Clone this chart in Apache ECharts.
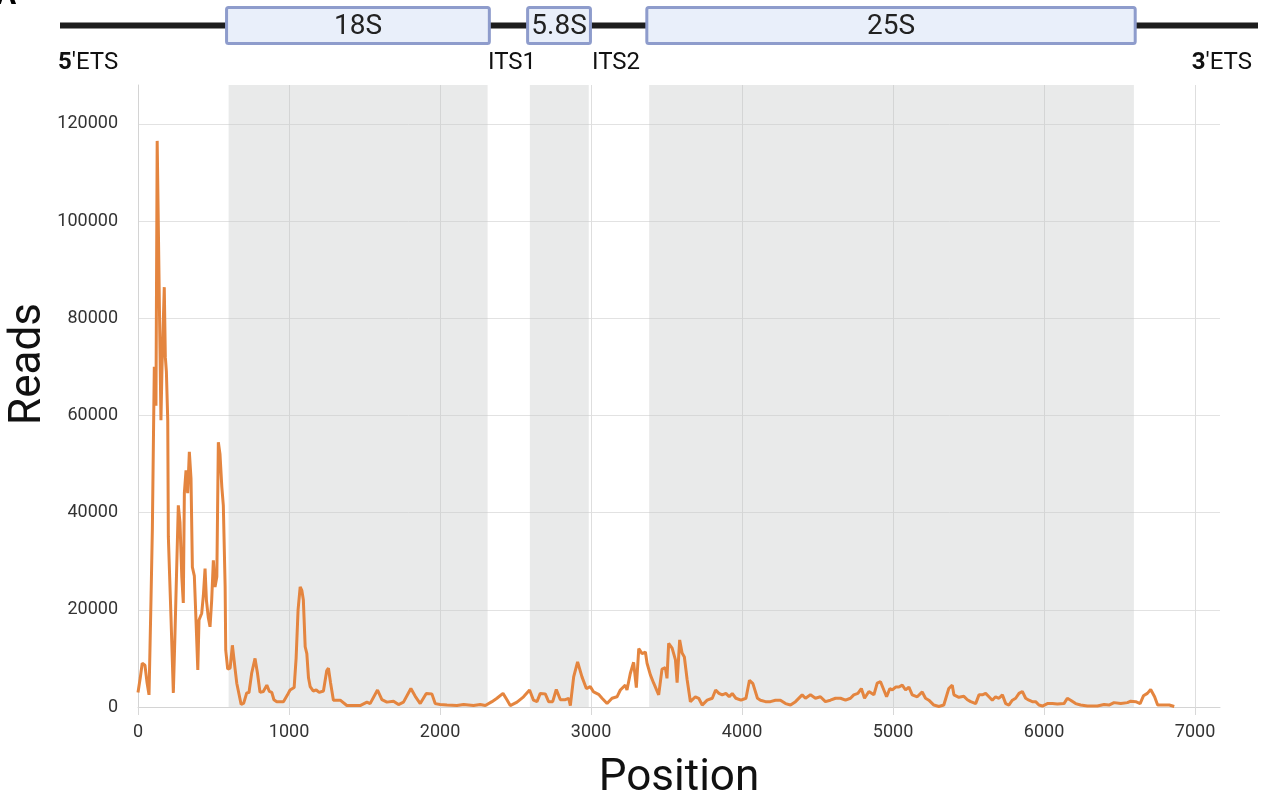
<!DOCTYPE html>
<html>
<head>
<meta charset="utf-8">
<script src="https://cdn.jsdelivr.net/npm/echarts@6/dist/echarts.min.js"></script>
<style>
  html, body { margin: 0; padding: 0; background: #fff; }
  #chart { width: 1265px; height: 807px; }
</style>
</head>
<body>
<div id="chart"></div>
<script>
// coverage track
const positions = [0, 7, 15, 28, 46, 60, 73, 86, 95, 101, 108, 115, 119, 127, 152, 159, 174, 181, 188, 197,
  201, 219, 234, 245, 267, 278, 290, 300, 307, 318, 329, 340, 351, 360, 373, 384, 396, 404, 422, 433,
  444, 453, 466, 477, 488, 499, 510, 522, 532, 543, 555, 565, 577, 581, 594, 610, 625, 643, 654, 683,
  700, 720, 735, 753, 775, 791, 808, 830, 853, 870, 886, 900, 919, 963, 990, 1007, 1034, 1047, 1060, 1074,
  1085, 1095, 1107, 1118, 1129, 1140, 1160, 1180, 1200, 1228, 1250, 1261, 1275, 1294, 1339, 1383, 1471, 1516, 1537, 1586,
  1615, 1648, 1692, 1725, 1758, 1807, 1836, 1869, 1909, 1946, 1968, 2001, 2046, 2112, 2156, 2222, 2266, 2300, 2344, 2377,
  2417, 2443, 2465, 2510, 2553, 2593, 2619, 2642, 2664, 2697, 2719, 2746, 2770, 2797, 2830, 2852, 2863, 2885, 2911, 2940,
  2969, 2995, 3017, 3050, 3073, 3106, 3139, 3172, 3194, 3227, 3238, 3260, 3282, 3300, 3316, 3338, 3360, 3371, 3393, 3415,
  3448, 3470, 3492, 3503, 3514, 3537, 3559, 3570, 3587, 3603, 3618, 3636, 3658, 3691, 3713, 3736, 3769, 3803, 3825, 3847,
  3869, 3893, 3915, 3935, 3959, 3993, 4026, 4049, 4072, 4102, 4122, 4155, 4188, 4221, 4254, 4288, 4321, 4354, 4398, 4420,
  4453, 4486, 4519, 4552, 4585, 4619, 4652, 4685, 4718, 4740, 4767, 4790, 4811, 4840, 4873, 4895, 4917, 4939, 4957, 4979,
  4995, 5017, 5039, 5061, 5083, 5105, 5127, 5160, 5193, 5215, 5237, 5270, 5303, 5336, 5369, 5392, 5403, 5436, 5469, 5492,
  5514, 5547, 5569, 5591, 5613, 5635, 5657, 5679, 5701, 5724, 5746, 5767, 5790, 5812, 5834, 5856, 5878, 5900, 5922, 5944,
  5966, 5989, 6022, 6055, 6088, 6132, 6154, 6176, 6209, 6242, 6287, 6353, 6397, 6430, 6463, 6508, 6552, 6574, 6607, 6636,
  6658, 6684, 6706, 6717, 6732, 6752, 6796, 6829, 6862]
const reads = [3000, 2900, 6000, 9000, 8600, 5000, 2500, 22000, 36400, 52000, 70000, 70000, 62000, 116500, 59000, 70000, 86400, 72000, 69000, 59000,
  35000, 17900, 2900, 15200, 41500, 38000, 26800, 21400, 44000, 48700, 44000, 52500, 47000, 28800, 27000, 17900, 7600, 17900, 19300, 23000,
  28500, 22000, 18300, 16500, 22000, 30200, 24700, 26800, 54500, 52000, 45300, 41500, 24700, 11700, 7800, 8000, 12700, 7800, 4900, 500,
  800, 2900, 3000, 7000, 10000, 7000, 3000, 3200, 4500, 3200, 3000, 1500, 1100, 1100, 2500, 3500, 4000, 10000, 20000, 24700,
  24000, 22000, 12400, 11000, 6000, 4200, 3300, 3500, 3000, 3300, 7500, 8000, 5000, 1400, 1400, 300, 300, 1000, 700, 3500,
  1500, 1000, 1200, 500, 1000, 3800, 2200, 700, 2800, 2700, 700, 500, 400, 300, 500, 300, 500, 300, 1100, 1800,
  2800, 1500, 300, 1000, 2100, 3500, 1400, 1100, 2800, 2700, 1100, 1100, 3600, 1500, 1500, 1800, 300, 6200, 9300, 6200,
  3800, 4200, 3100, 2600, 1800, 700, 1800, 2100, 3500, 4500, 3500, 6900, 9200, 4000, 12000, 11000, 11300, 9000, 6600, 4900,
  2500, 7800, 8100, 5900, 13100, 12100, 9700, 5000, 13800, 11100, 10300, 5700, 1100, 2100, 1800, 400, 1400, 1800, 3500, 2800,
  2500, 2800, 2100, 2800, 1800, 1400, 1800, 5500, 4800, 1800, 1400, 1100, 1100, 1400, 1400, 700, 400, 1100, 2500, 1800,
  2500, 1800, 2100, 1100, 1400, 1800, 1800, 1400, 1800, 2500, 2800, 3800, 1800, 3200, 2500, 4900, 5200, 3500, 2100, 3800,
  3500, 4100, 4100, 4500, 3500, 4100, 2500, 2100, 3100, 1800, 1400, 400, 100, 400, 3800, 4500, 2500, 2000, 2200, 1500,
  1100, 700, 2500, 2500, 2800, 2100, 1400, 2100, 1800, 2500, 700, 400, 1400, 1800, 2800, 3200, 1800, 1400, 1100, 1100,
  400, 200, 700, 700, 600, 700, 1800, 1400, 700, 400, 200, 200, 500, 400, 900, 700, 900, 1200, 1100, 700,
  2300, 2800, 3600, 3800, 2100, 400, 400, 400, 100]

// rRNA regions (18S, 5.8S, 25S)
const regionNames = ['18S', '5.8S', '25S']
const regionStart = [600, 2595, 3385]
const regionEnd = [2315, 2985, 6595]

const chart = echarts.init(document.getElementById('chart'))

const font = 'Roboto, "Noto Sans", sans-serif'

const option = {
  animation: false,
  grid: [
    { left: 138, right: 45, top: 85, bottom: 100 },
    // schematic strip on top
    { left: 60, width: 1198, top: 6, height: 39 }
  ],
  xAxis: [
    {
      type: 'value',
      gridIndex: 0,
      min: 0,
      max: 7165,
      interval: 1000,
      axisLine: { show: true, lineStyle: { color: '#d4d4d4', width: 1 } },
      axisTick: { show: true, length: 8, lineStyle: { color: '#d8d8d8' } },
      axisLabel: { fontFamily: font, fontSize: 18, color: '#333', margin: 16, showMaxLabel: false, formatter: v => String(v) },
      splitLine: { show: true, showMaxLine: false, lineStyle: { color: '#dedede' } },
      name: 'Position',
      nameLocation: 'middle',
      nameGap: 50,
      nameTextStyle: { fontFamily: font, fontSize: 44, color: '#111' }
    },
    {
      type: 'value',
      gridIndex: 1,
      min: -517,
      max: 7422,
      show: false
    }
  ],
  yAxis: [
    {
      type: 'value',
      gridIndex: 0,
      min: 0,
      max: 128000,
      interval: 20000,
      axisLine: { show: true, lineStyle: { color: '#d4d4d4', width: 1 } },
      axisTick: { show: false },
      axisLabel: { fontFamily: font, fontSize: 18, color: '#333', margin: 20, showMaxLabel: false, formatter: v => String(v) },
      splitLine: { show: true, showMaxLine: false, lineStyle: { color: '#e2e2e2' } }
    },
    {
      type: 'value',
      gridIndex: 1,
      min: 0,
      max: 1,
      show: false
    }
  ],
  graphic: [
    { type: 'text', x: -4, y: -19, style: { text: 'A', font: 'bold 30px ' + font, fill: '#000' } },
    {
      type: 'text', x: 29, y: 364, rotation: Math.PI / 2,
      style: { text: 'Reads', font: '44px ' + font, fill: '#111', align: 'center', verticalAlign: 'middle' }
    },
    {
      type: 'text', x: 58, y: 63,
      style: {
        text: '{b|5}\'ETS', font: '24px ' + font, fill: '#111', verticalAlign: 'middle',
        rich: { b: { fontWeight: 'bold', fontSize: 24, fontFamily: font, fill: '#111' } }
      }
    },
    { type: 'text', x: 488, y: 63, style: { text: 'ITS1', font: '24px ' + font, fill: '#111', verticalAlign: 'middle' } },
    { type: 'text', x: 592, y: 63, style: { text: 'ITS2', font: '24px ' + font, fill: '#111', verticalAlign: 'middle' } },
    {
      type: 'text', x: 1252, y: 63,
      style: {
        text: '{b|3}\'ETS', font: '24px ' + font, fill: '#111', align: 'right', verticalAlign: 'middle',
        rich: { b: { fontWeight: 'bold', fontSize: 24, fontFamily: font, fill: '#111' } }
      }
    }
  ],
  series: [
    {
      type: 'line',
      xAxisIndex: 0,
      yAxisIndex: 0,
      data: positions.map((p, i) => [p, reads[i]]),
      showSymbol: false,
      symbol: 'none',
      lineStyle: { color: '#e4853f', width: 3 },
      z: 5,
      markArea: {
        silent: true,
        itemStyle: { color: 'rgba(196,200,200,0.38)' },
        data: regionNames.map((n, i) => [{ xAxis: regionStart[i] }, { xAxis: regionEnd[i] }])
      }
    },
    {
      // black backbone of the schematic
      type: 'line',
      xAxisIndex: 1,
      yAxisIndex: 1,
      data: [[-517, 0.5], [7422, 0.5]],
      symbol: 'none',
      silent: true,
      lineStyle: { color: '#1d1d1d', width: 6 },
      z: 2
    },
    {
      type: 'custom',
      xAxisIndex: 1,
      yAxisIndex: 1,
      silent: true,
      z: 10,
      data: regionNames.map((n, i) => [regionStart[i], regionEnd[i]]),
      encode: { x: [0, 1] },
      renderItem: (params, api) => {
        const p0 = api.coord([api.value(0), 1])
        const p1 = api.coord([api.value(1), 0])
        return {
          type: 'group',
          children: [
            {
              type: 'rect',
              shape: { x: p0[0] - 2, y: p0[1] + 1.5, width: p1[0] - p0[0] + 4, height: p1[1] - p0[1] - 3, r: 2 },
              style: { fill: '#e9effa', stroke: '#8e9ccc', lineWidth: 3 }
            },
            {
              type: 'text',
              x: (p0[0] + p1[0]) / 2,
              y: (p0[1] + p1[1]) / 2 + 1,
              style: {
                text: regionNames[params.dataIndex],
                font: '28px ' + font,
                fill: '#222',
                align: 'center',
                verticalAlign: 'middle'
              }
            }
          ]
        }
      }
    }
  ]
}

chart.setOption(option)

window.addEventListener('resize', () => {
  chart.resize()
})
</script>
</body>
</html>
